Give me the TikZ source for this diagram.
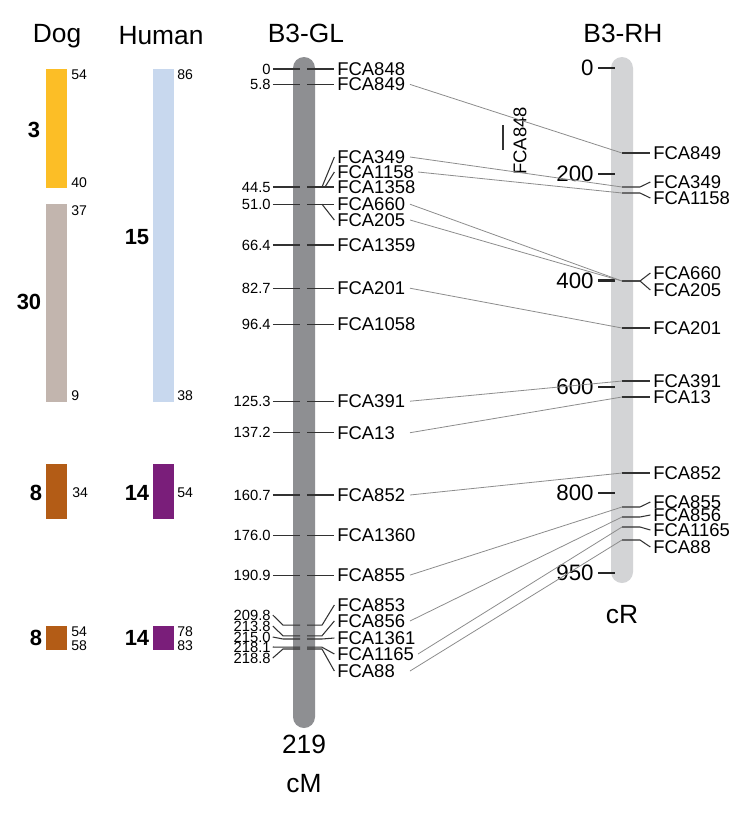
\documentclass[tikz,border=0pt]{standalone}
\usepackage{fontspec}
\setmainfont{Liberation Sans}
\definecolor{dogyellow}{RGB}{252,190,38}
\definecolor{dogtaupe}{RGB}{194,181,174}
\definecolor{humblue}{RGB}{200,216,238}
\definecolor{dogorange}{RGB}{179,92,22}
\definecolor{humpurple}{RGB}{122,30,122}
\definecolor{glgray}{RGB}{142,143,146}
\definecolor{rhgray}{RGB}{211,212,214}
\definecolor{conngray}{RGB}{140,140,140}
\definecolor{tickgray}{RGB}{50,50,50}
\usetikzlibrary{positioning}

\begin{document}
\begin{tikzpicture}[x=0.02cm,y=-0.02cm,
    title/.style={font=\fontsize{15}{18}\selectfont,inner sep=0pt},
    mk/.style={font=\fontsize{10.5}{12}\selectfont,inner sep=0pt,anchor=west},
    cmnum/.style={font=\fontsize{8.4}{10}\selectfont,inner sep=0pt,anchor=east},
    endnum/.style={font=\fontsize{8}{10}\selectfont,inner sep=0pt,anchor=west},
    chrnum/.style={font=\fontsize{12.5}{15}\selectfont\bfseries,inner sep=0pt},
    crnum/.style={font=\fontsize{12.7}{15}\selectfont,inner sep=0pt,anchor=east},
    gltick/.style={tickgray,line width=0.6pt},
    crtick/.style={black!85,line width=1.3pt},
    conn/.style={conngray,line width=0.45pt}]

  \useasboundingbox[fill=white] (0,0) rectangle (750,816);

  %% Titles
  \node[title] (dog)   at (57,36)  {Dog};
  \node[title] (human) at (161,36) {Human};
  \node[title] (gl)    at (306,33) {B3-GL};
  \node[title] (rh)    at (623,33) {B3-RH};

  %% Dog and human segments
  \fill[dogyellow]  (46,69)  rectangle (67,188);
  \fill[dogtaupe]   (46,204) rectangle (67,402);
  \fill[humblue]    (153,69) rectangle (174,402);
  \fill[dogorange]  (46,464) rectangle (67,519);
  \fill[humpurple]  (153,464) rectangle (174,519);
  \fill[dogorange]  (46,626) rectangle (67,650);
  \fill[humpurple]  (153,626) rectangle (174,650);

  \node[chrnum] (d3)  at (34,130)  {3};
  \node[chrnum] (d30) at (29,302)  {30};
  \node[chrnum] (h15) at (137,237) {15};
  \node[chrnum] (d8a) at (36,493)  {8};
  \node[chrnum] (h14a) at (137,493) {14};
  \node[chrnum] (d8b) at (36,638)  {8};
  \node[chrnum] (h14b) at (137,638) {14};

  \node[endnum] (e1)  at (71,75)   {54};
  \node[endnum] (e2)  at (71,183)  {40};
  \node[endnum] (e3)  at (71,211)  {37};
  \node[endnum] (e4)  at (71,396)  {9};
  \node[endnum] (e5)  at (177,75)  {86};
  \node[endnum] (e6)  at (177,396) {38};
  \node[endnum] (e7)  at (72,493)  {34};
  \node[endnum] (e8)  at (177,493) {54};
  \node[endnum] (e9)  at (71,632)  {54};
  \node[endnum] (e10) at (71,646)  {58};
  \node[endnum] (e11) at (177,632) {78};
  \node[endnum] (e12) at (177,646) {83};

  %% Chromosome bars
  \fill[glgray,rounded corners=0.22cm] (293,57) rectangle (315,728);
  \fill[rhgray,rounded corners=0.22cm] (611,57) rectangle (633,583);

  \node[title] (len) at (304,744) {219};
  \node[title] (cm)  at (304,784) {cM};
  \node[title] (cr)  at (622,615) {cR};

  %% B3-GL markers
  \foreach \y/\v/\m in {69/0/848,84.4/5.8/849,245/66.4/1359,288.2/82.7/201,
      324.6/96.4/1058,401.2/125.3/391,432.7/137.2/13,495/160.7/852,
      535.6/176.0/1360,575.1/190.9/855}{
    \node[cmnum] (n\m) at (271,\y) {\v};
    \node[mk] (g\m) at (337,\y) {FCA\m};
    \draw[gltick] ([xshift=1pt]n\m.east) -- (300,\y);
    \draw[gltick] (307,\y) -- ([xshift=-1.5pt]g\m.west);
  }

  \node[cmnum] (n1358) at (271,187) {44.5};
  \node[mk] (g349)  at (337,157) {FCA349};
  \node[mk] (g1158) at (337,172) {FCA1158};
  \node[mk] (g1358) at (337,187) {FCA1358};
  \draw[gltick] ([xshift=1pt]n1358.east) -- (300,187);
  \draw[gltick] (307,187) -- ([xshift=-1.5pt]g1358.west);
  \draw[gltick] (322,187) -- ([xshift=-1.5pt]g349.west);
  \draw[gltick] (325,187) -- ([xshift=-1.5pt]g1158.west);

  \node[cmnum] (n660) at (271,204.2) {51.0};
  \node[mk] (g660) at (337,204.2) {FCA660};
  \node[mk] (g205) at (337,220)   {FCA205};
  \draw[gltick] ([xshift=1pt]n660.east) -- (300,204.2);
  \draw[gltick] (307,204.2) -- ([xshift=-1.5pt]g660.west);
  \draw[gltick] (322,204.2) -- ([xshift=-1.5pt]g205.west);

  \foreach \ly/\ty/\ry/\v/\m in {615/625.2/605/209.8/853,626/635.8/621/213.8/856,
      637/639/638/215.0/1361,647/647.2/654/218.1/1165,658/649/671/218.8/88}{
    \node[cmnum] (n\m) at (271,\ly) {\v};
    \node[mk] (g\m) at (337,\ry) {FCA\m};
    \draw[gltick] ([xshift=1pt]n\m.east) -- (283,\ty) -- (300,\ty);
    \draw[gltick] (307,\ty) -- (322,\ty) -- ([xshift=-1.5pt]g\m.west);
  }

  %% B3-RH scale
  \foreach \v in {0,200,400,600,800,950}{
    \node[crnum] (cr\v) at (594,{68+0.5313*\v}) {\v};
    \draw[crtick] (598,{68+0.5313*\v}) -- (615,{68+0.5313*\v});
  }

  %% B3-RH markers
  \foreach \m/\ty/\ly in {849/153/153,349/187/182,1158/193/198,660/281/273,
      205/281/290,201/328/328,391/381/381,13/397/397,852/473/473,
      855/507/502,856/517/515,1165/527/530,88/540/547}{
    \coordinate (rt\m) at (622,\ty);
    \node[mk] (h\m) at (653,\ly) {FCA\m};
    \draw[gltick] (rt\m) -- ++(18,0) -- ([xshift=-1.5pt]h\m.west);
  }

  \node[mk,rotate=90,anchor=center] (u848) at (520,141) {FCA848};
  \draw[gltick] (503,125) -- (503,150);

  %% Links GL -> RH
  \foreach \m/\sx in {849/410,349/410,1158/418,660/410,205/410,201/410,
      391/410,13/410,852/410,855/410,856/410,1165/418,88/410}{
    \draw[conn] (g\m.east -| \sx,0) -- (rt\m);
  }
\end{tikzpicture}
\end{document}
